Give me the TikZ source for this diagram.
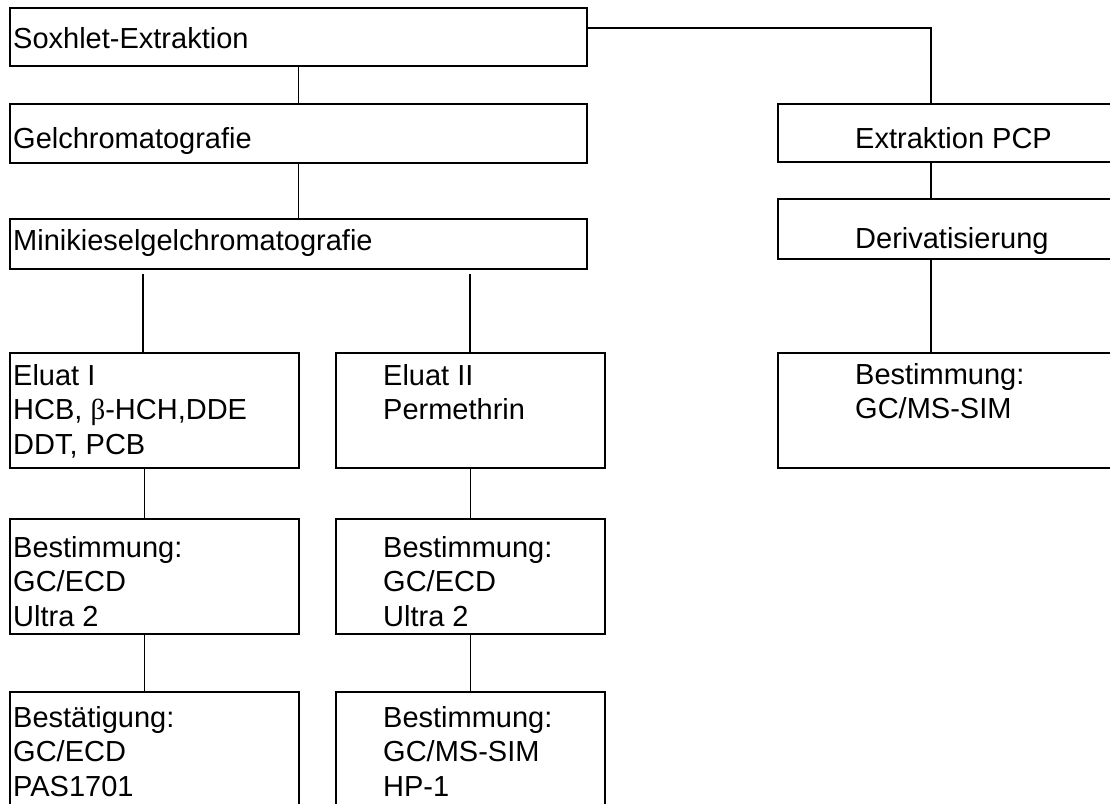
\documentclass[tikz,border=0pt]{standalone}
\usepackage{fontspec}
\setmainfont{Liberation Sans}
\newfontfamily\symfont{Liberation Serif}
\usetikzlibrary{positioning}

\begin{document}
\begin{tikzpicture}[x=1pt, y=-1pt,
    box/.style={draw, line width=2pt, anchor=north west, inner sep=0pt},
    txt/.style={anchor=north west, inner sep=0pt, align=left, font=\fontsize{29}{34.5}\selectfont},
    link/.style={line width=1.6pt}]
  \useasboundingbox (0,0) rectangle (1110,803);
  \clip (0,0) rectangle (1110,803);

  % main path
  \node[box, minimum width=577pt, minimum height=58pt] (sox) at (9,7) {};
  \node[box, minimum width=577pt, minimum height=59pt] (gel) at (9,103) {};
  \node[box, minimum width=577pt, minimum height=50pt] (mini) at (9,218) {};
  \node[txt] (soxT) at (13,27) {Soxhlet-Extraktion};
  \node[txt] (gelT) at (13,127) {Gelchromatografie};
  \node[txt] (miniT) at (13,229) {Minikieselgelchromatografie};

  % eluat I / II
  \node[box, minimum width=289pt, minimum height=115pt] (eluI) at (9,352) {};
  \node[box, minimum width=269pt, minimum height=115pt] (eluII) at (335,352) {};
  \node[box, minimum width=289pt, minimum height=115pt] (bestI) at (9,518) {};
  \node[box, minimum width=269pt, minimum height=115pt] (bestII) at (335,518) {};
  \node[box, minimum width=289pt, minimum height=130pt] (confI) at (9,691) {};
  \node[box, minimum width=269pt, minimum height=130pt] (confII) at (335,691) {};
  \node[txt] (eluIT) at (13,364) {Eluat I\\HCB, {\symfont β}-HCH,DDE\\DDT, PCB};
  \node[txt] (eluIIT) at (383,364) {Eluat II\\Permethrin};
  \node[txt] (bestIT) at (13,536) {Bestimmung:\\GC/ECD\\Ultra 2};
  \node[txt] (bestIIT) at (383,536) {Bestimmung:\\GC/ECD\\Ultra 2};
  \node[txt] (confIT) at (13,706) {Bestätigung:\\GC/ECD\\PAS1701};
  \node[txt] (confIIT) at (383,706) {Bestimmung:\\GC/MS-SIM\\HP-1};

  % PCP
  \node[box, minimum width=360pt, minimum height=58pt] (pcp) at (777,103) {};
  \node[box, minimum width=360pt, minimum height=60pt] (deriv) at (777,198) {};
  \node[box, minimum width=360pt, minimum height=115pt] (bestIII) at (777,352) {};
  \node[txt] (pcpT) at (855,127) {Extraktion PCP};
  \node[txt] (derivT) at (855,227) {Derivatisierung};
  \node[txt] (bestIIIT) at (855,363) {Bestimmung:\\GC/MS-SIM};

  \coordinate (splitI) at (143,274);
  \coordinate (splitII) at (470,274);

  \draw[link] (sox.south) -- (gel.north);
  \draw[link] (gel.south) -- (mini.north);
  \draw[link] (splitI) -- (splitI |- eluI.north);
  \draw[link] (splitII) -- (splitII |- eluII.north);
  \draw[link] ([xshift=-10pt]eluI.south) -- ([xshift=-10pt]bestI.north);
  \draw[link] ([xshift=-10pt]bestI.south) -- ([xshift=-10pt]confI.north);
  \draw[link] (eluII.south) -- (bestII.north);
  \draw[link] (bestII.south) -- (confII.north);
  \draw[link] ([yshift=9pt]sox.east) -| ([xshift=154pt]pcp.north west);
  \draw[link] ([xshift=154pt]pcp.south west) -- ([xshift=154pt]deriv.north west);
  \draw[link] ([xshift=154pt]deriv.south west) -- ([xshift=154pt]bestIII.north west);
\end{tikzpicture}
\end{document}
